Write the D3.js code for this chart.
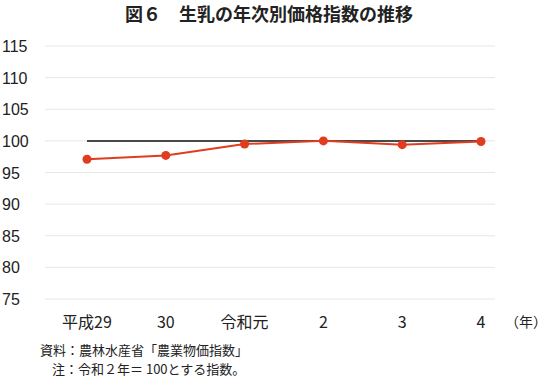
<!DOCTYPE html>
<html><head><meta charset="utf-8">
<script src="https://cdn.jsdelivr.net/npm/d3@7"></script>
<style>body{margin:0;background:#fff}svg{display:block}</style>
</head><body>
<svg id="c" width="550" height="379"></svg>
<script>
const categories = ["平成29","30","令和元","2","3","4"];
const values = [97.1, 97.7, 99.5, 100.0, 99.4, 99.9];
const baseline = [100,100,100,100,100,100];
const yTicks = [75,80,85,90,95,100,105,110,115];
const title = "図６　生乳の年次別価格指数の推移";
const notes = ["資料：農林水産省「農業物価指数」","注：令和２年＝ 100とする指数。"];

const svg = d3.select("#c");
const font = "'Noto Sans CJK JP','Liberation Sans',sans-serif";
const x = d3.scalePoint().domain(categories).range([87,481]);
const y = d3.scaleLinear().domain([75,115]).range([299,46]);

svg.append("text").attr("x",269).attr("y",21).attr("text-anchor","middle")
  .attr("font-family",font).attr("font-weight","bold").attr("font-size",18).attr("fill","#222").text(title);

svg.append("g").selectAll("line").data(yTicks).join("line")
  .attr("x1",45).attr("x2",495).attr("y1",d=>y(d)).attr("y2",d=>y(d))
  .attr("stroke","#e6e6e6").attr("stroke-width",1);

svg.append("g").selectAll("text").data(yTicks).join("text")
  .attr("x",2).attr("y",d=>y(d)+6).attr("font-family","'Liberation Sans',Arial,sans-serif")
  .attr("font-size",16).attr("fill","#222").text(d=>d);

svg.append("g").selectAll("text").data(categories).join("text")
  .attr("x",d=>x(d)).attr("y",328).attr("text-anchor","middle")
  .attr("font-family",font).attr("font-size",16).attr("fill","#222").text(d=>d);
svg.append("text").attr("x",547).attr("y",327).attr("text-anchor","end")
  .attr("font-family",font).attr("font-size",14).attr("fill","#222").text("（年）");

const line = d3.line().x((d,i)=>x(categories[i])).y(d=>y(d));
svg.append("path").attr("d",line(baseline)).attr("fill","none").attr("stroke","#111").attr("stroke-width",1.5);
svg.append("path").attr("d",line(values)).attr("fill","none").attr("stroke","#e03c1f").attr("stroke-width",2);
svg.append("g").selectAll("circle").data(values).join("circle")
  .attr("cx",(d,i)=>x(categories[i])).attr("cy",d=>y(d)).attr("r",4.5).attr("fill","#e03c1f");

svg.append("text").attr("x",40).attr("y",355).attr("font-family",font).attr("font-size",13).attr("fill","#222").text(notes[0]);
svg.append("text").attr("x",52).attr("y",374).attr("font-family",font).attr("font-size",13).attr("fill","#222").text(notes[1]);
</script>
</body></html>
